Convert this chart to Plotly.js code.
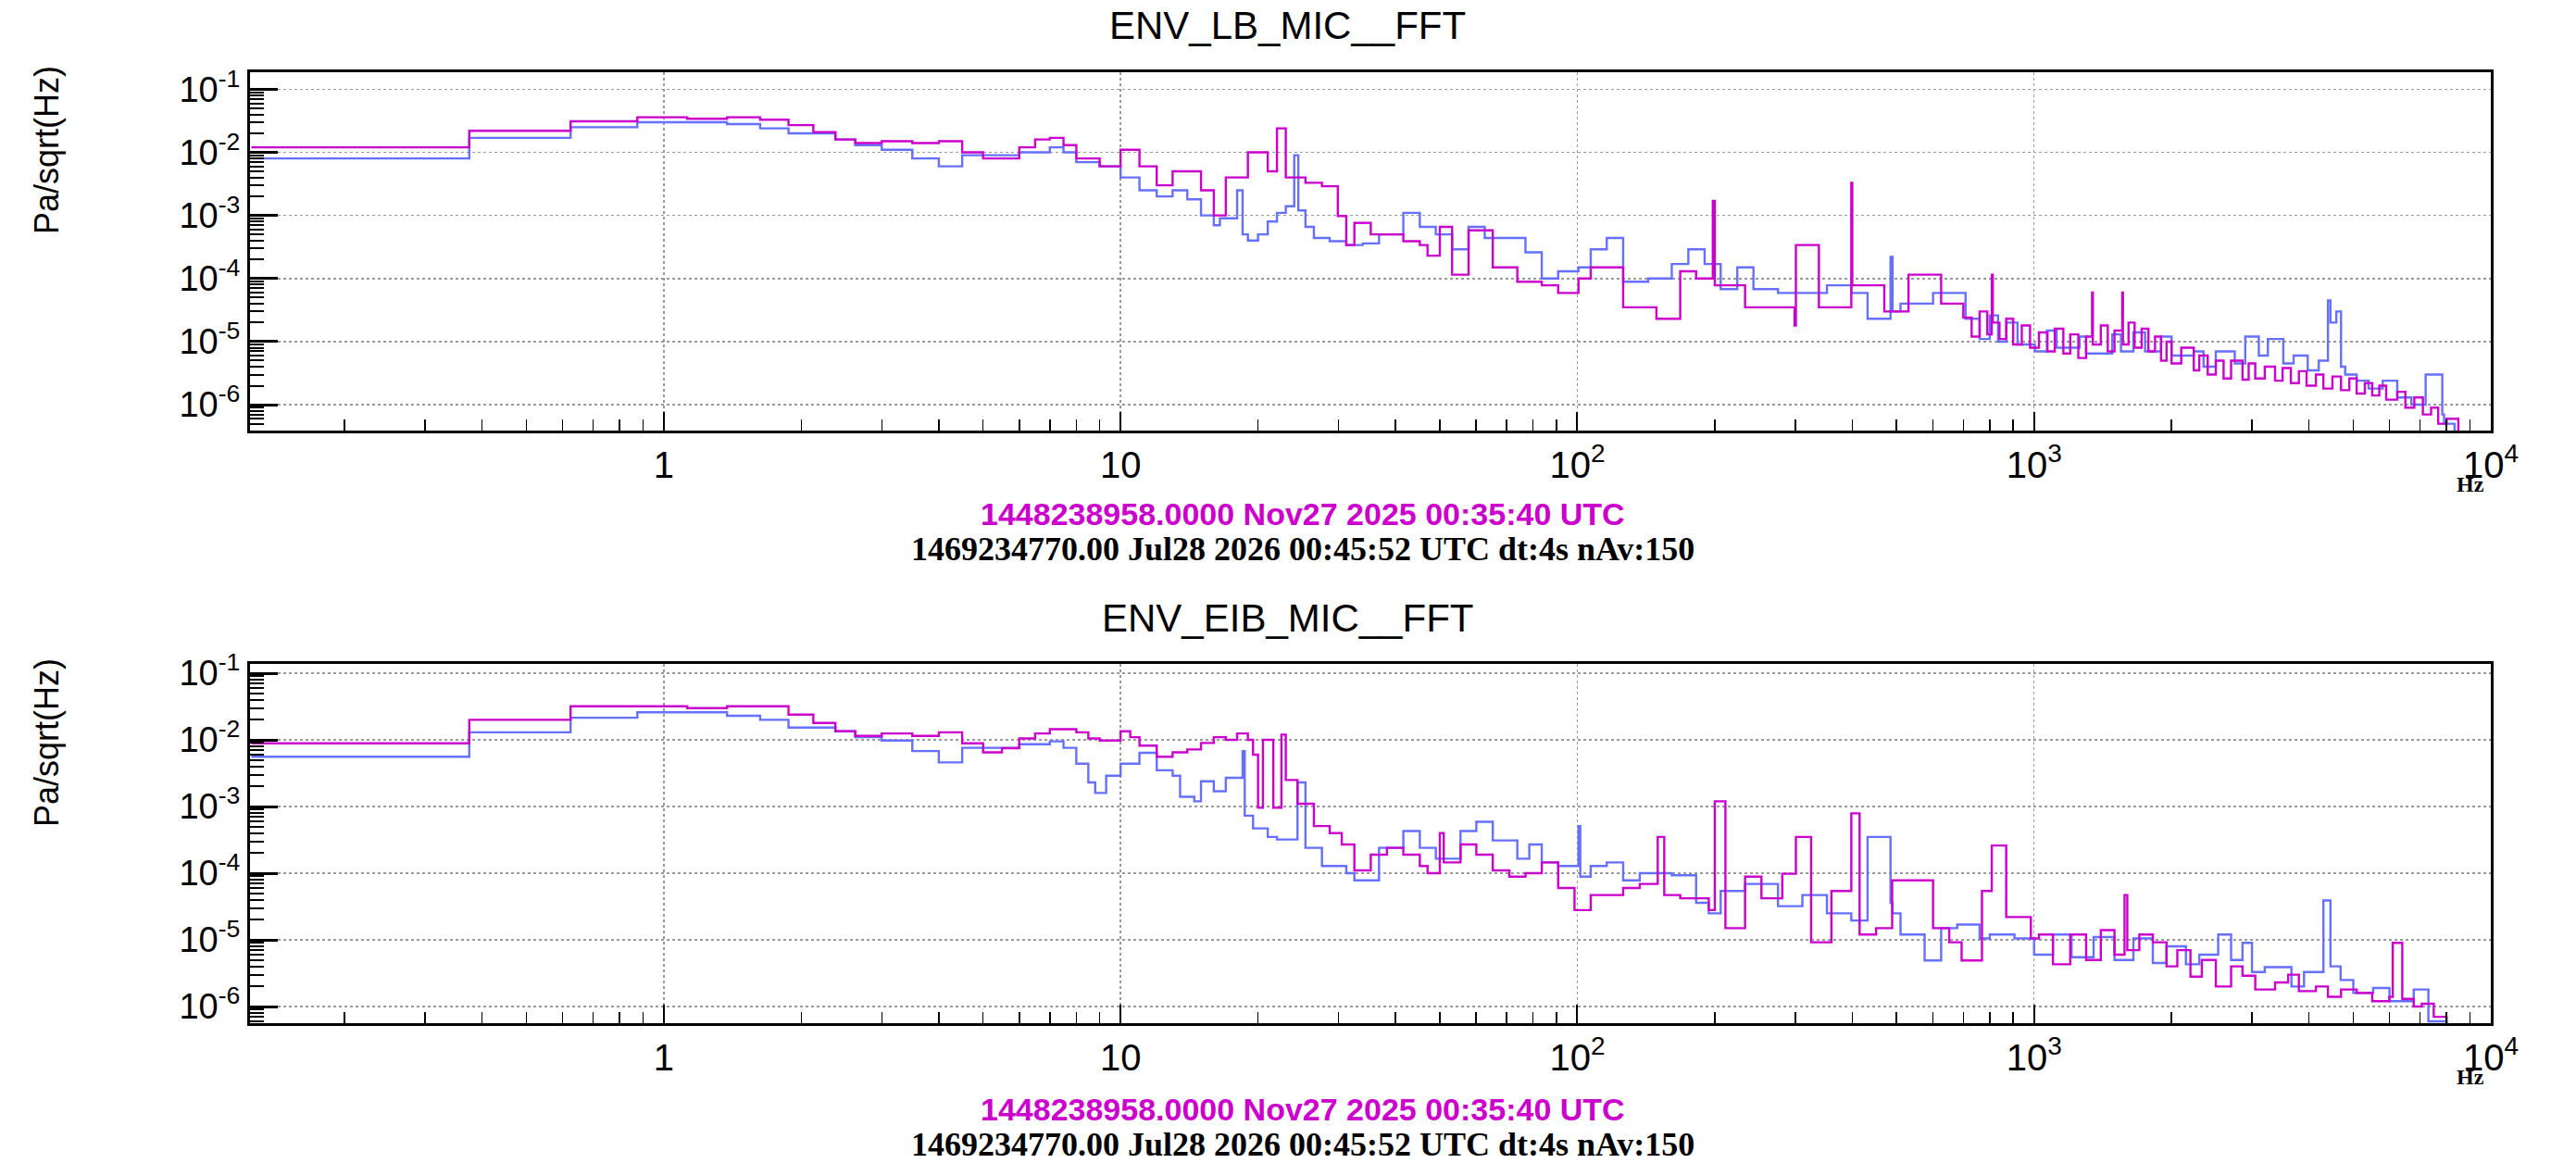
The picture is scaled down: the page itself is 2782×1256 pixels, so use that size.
<!DOCTYPE html>
<html>
<head>
<meta charset="utf-8">
<script src="https://cdn.plot.ly/plotly-3.0.1.min.js"></script>
<style>html,body{margin:0;padding:0;background:#fff}#chart{width:2782px;height:1256px}</style>
</head>
<body>
<div id="chart"></div>
<script>
const magenta = "#cc00cc",
  blue = "#6670ff";

// ENV_LB_MIC__FFT, reference trace (magenta)
const lbRefF = [0.125, 0.375, 0.625, 0.875, 1.125, 1.375, 1.625, 1.875, 2.125, 2.375, 2.625, 3, 3.5, 4, 4.5, 5, 6, 6.5, 7, 7.5, 8, 9, 10, 11, 12, 13, 15, 16, 17, 19, 21, 22, 23, 25.4, 27.6, 29.9, 31.2, 32.5, 35.3, 38.3, 41.6, 45.2, 47, 50, 53.2, 57.8, 65.3, 73.9, 83.6, 90.8, 100.6, 107, 126, 149, 168, 182, 198, 200, 233, 299, 301, 338, 398, 400, 470, 531, 626, 700, 730, 760, 790, 808, 812, 840, 869, 900, 940, 980, 1025, 1070, 1110, 1159, 1200, 1250, 1300, 1340, 1345, 1400, 1450, 1500, 1560, 1565, 1610, 1660, 1720, 1780, 1840, 1897, 1950, 2000, 2100, 2237, 2300, 2400, 2500, 2600, 2700, 2860, 2950, 3050, 3200, 3370, 3500, 3650, 3800, 3950, 4140, 4300, 4500, 4700, 4900, 5085, 5300, 5500, 5700, 5900, 6240, 6500, 6800, 7100, 7400, 7670, 8000, 8490, 9000];
const lbRefV = [0.012, 0.022, 0.031, 0.036, 0.034, 0.036, 0.033, 0.027, 0.021, 0.016, 0.014, 0.015, 0.014, 0.015, 0.010, 0.008, 0.012, 0.016, 0.017, 0.013, 0.008, 0.006, 0.011, 0.006, 0.003, 0.005, 0.0025, 0.001, 0.004, 0.01, 0.005, 0.024, 0.004, 0.0033, 0.0029, 0.00098, 0.00034, 0.00076, 0.0005, 0.0005, 0.00039, 0.00034, 0.00023, 0.00066, 0.000115, 0.00058, 0.00015, 0.000089, 0.000078, 0.000059, 0.0001, 0.00015, 0.000035, 0.000023, 0.00013, 0.0001, 0.0017, 0.000078, 0.000035, 0.000018, 0.00034, 0.000035, 0.0033, 0.000078, 0.00003, 0.000115, 0.00004, 0.000024, 0.000012, 0.00003, 0.000013, 0.000115, 0.00002, 0.000011, 0.000023, 0.000009, 0.000018, 0.000008, 0.000014, 0.000007, 0.000016, 0.0000065, 0.000013, 0.0000055, 0.000012, 0.00006, 0.000009, 0.000018, 0.000007, 0.000015, 0.00006, 0.000009, 0.00002, 0.000008, 0.000016, 0.000007, 0.000012, 0.000005, 0.00001, 0.0000045, 0.000008, 0.0000035, 0.000006, 0.000003, 0.000005, 0.0000026, 0.000005, 0.0000025, 0.0000045, 0.0000026, 0.000004, 0.0000024, 0.0000038, 0.0000022, 0.0000034, 0.000002, 0.000003, 0.0000018, 0.0000028, 0.0000017, 0.0000026, 0.0000015, 0.0000022, 0.0000014, 0.000002, 0.0000012, 0.0000016, 0.0000009, 0.0000013, 0.0000007, 0.0000009, 0.0000005, 0.0000006, 0.0000003, 0.0000002];

// ENV_LB_MIC__FFT, current trace (blue)
const lbNowF = [0.125, 0.375, 0.625, 0.875, 1.375, 1.625, 1.875, 2.375, 2.625, 3, 3.5, 4, 4.5, 5, 6, 7, 7.5, 8, 9, 10, 11, 12, 13, 14, 15, 16, 16.5, 17, 18, 18.5, 19, 20, 21, 22, 23, 24, 24.5, 25.4, 26.5, 28.7, 31.2, 33.9, 36.8, 41.6, 45.2, 49, 53.2, 57.8, 62.7, 71, 77, 83.6, 90.8, 100.6, 107, 116, 126, 143, 161, 175, 190, 206, 224, 243, 275, 311, 352, 398, 432, 485, 490, 510, 601, 708, 760, 800, 834, 870, 920, 1004, 1067, 1120, 1258, 1300, 1483, 1550, 1650, 1750, 1897, 2000, 2237, 2350, 2500, 2750, 2900, 3105, 3250, 3513, 3700, 3973, 4200, 4400, 4456, 4590, 4700, 4800, 5085, 5400, 5800, 6240, 6700, 7200, 7830, 7900, 8330, 9000];
const lbNowV = [0.008, 0.017, 0.025, 0.030, 0.028, 0.024, 0.020, 0.016, 0.013, 0.011, 0.008, 0.006, 0.009, 0.009, 0.010, 0.012, 0.010, 0.007, 0.006, 0.004, 0.0025, 0.002, 0.0025, 0.0018, 0.001, 0.0007, 0.0009, 0.0009, 0.0025, 0.0005, 0.0004, 0.0005, 0.0008, 0.0011, 0.0014, 0.009, 0.0012, 0.00066, 0.00044, 0.00039, 0.00034, 0.00036, 0.0005, 0.0011, 0.00066, 0.0005, 0.00029, 0.00066, 0.00044, 0.00044, 0.00026, 0.0001, 0.00013, 0.00015, 0.00029, 0.00044, 0.000089, 0.0001, 0.00017, 0.00029, 0.00017, 0.000068, 0.00015, 0.000068, 0.000059, 0.000059, 0.000078, 0.000059, 0.000023, 0.00022, 0.00003, 0.00004, 0.000059, 0.000023, 0.000011, 0.000026, 0.00001, 0.00002, 0.000009, 0.000007, 0.000015, 0.000008, 0.000012, 0.0000065, 0.000013, 0.000007, 0.000014, 0.000007, 0.000012, 0.000006, 0.000007, 0.000004, 0.000007, 0.0000045, 0.000012, 0.000006, 0.000011, 0.0000045, 0.000006, 0.0000035, 0.000005, 0.000045, 0.00002, 0.00003, 0.000004, 0.000003, 0.0000024, 0.0000018, 0.0000024, 0.0000013, 0.000001, 0.000003, 0.0000007, 0.0000005, 0.0000002];

// ENV_EIB_MIC__FFT, reference trace (magenta)
const eibRefF = [0.125, 0.375, 0.625, 1.125, 1.375, 1.875, 2.125, 2.375, 2.625, 3, 3.5, 4, 4.5, 5, 5.5, 6, 6.5, 7, 8, 8.5, 9, 10, 10.5, 11, 12, 13, 14, 15, 16, 17, 18, 19, 19.5, 20, 20.5, 21.6, 22.5, 23, 24.4, 26.5, 28.7, 30.5, 32.5, 35.3, 38.3, 41.6, 45.2, 47, 50, 51, 55.5, 60.1, 65.3, 71, 77, 83.6, 90.8, 98.6, 107, 126, 137, 150, 155, 168, 175, 194, 200, 211, 233, 253, 281, 301, 325, 360, 398, 415, 451, 489, 553, 601, 652, 694, 769, 808, 869, 984, 1025, 1100, 1200, 1300, 1400, 1500, 1578, 1600, 1700, 1820, 1950, 2059, 2200, 2330, 2500, 2700, 2860, 3050, 3370, 3600, 3800, 4140, 4400, 4700, 5085, 5500, 5995, 6100, 6400, 6780, 7060, 7500, 8000, 9000];
const eibRefV = [0.0089, 0.020, 0.032, 0.030, 0.032, 0.024, 0.018, 0.0135, 0.0115, 0.0125, 0.0115, 0.013, 0.0089, 0.0065, 0.0075, 0.0105, 0.0125, 0.0145, 0.013, 0.0105, 0.0098, 0.0135, 0.011, 0.0082, 0.0056, 0.0065, 0.0072, 0.009, 0.011, 0.010, 0.0125, 0.010, 0.006, 0.00096, 0.010, 0.00096, 0.012, 0.0025, 0.0011, 0.00051, 0.0004, 0.00027, 0.00011, 0.00019, 0.00024, 0.00019, 0.000128, 0.0001, 0.0004, 0.000145, 0.00027, 0.00019, 0.00011, 0.000089, 0.0001, 0.000145, 0.00006, 0.000028, 0.000047, 0.00006, 0.000069, 0.00035, 0.000047, 0.000042, 0.000042, 0.000028, 0.0012, 0.000015, 0.000089, 0.000042, 0.000098, 0.00035, 0.0000092, 0.000054, 0.00079, 0.000012, 0.000015, 0.000078, 0.000078, 0.000015, 0.0000092, 0.0000049, 0.000054, 0.00026, 0.000022, 0.0000105, 0.000012, 0.0000043, 0.000012, 0.000005, 0.000014, 0.000006, 0.000047, 0.000007, 0.000012, 0.0000092, 0.000004, 0.000007, 0.0000028, 0.000005, 0.000002, 0.000004, 0.0000029, 0.0000018, 0.0000023, 0.000003, 0.0000017, 0.000002, 0.0000014, 0.0000018, 0.0000016, 0.0000012, 0.0000014, 0.000009, 0.0000013, 0.000001, 0.0000011, 0.0000007, 0.0000005, 0.0000004, 0.0000002];

// ENV_EIB_MIC__FFT, current trace (blue)
const eibNowF = [0.125, 0.375, 0.625, 0.875, 1.375, 1.625, 1.875, 2.375, 2.625, 3, 3.5, 4, 4.5, 6, 7, 7.5, 8, 8.5, 8.8, 9.3, 10, 11, 12, 13, 13.5, 14.5, 15, 16, 17, 18.5, 18.7, 19.5, 21, 22, 24.4, 25.4, 27.6, 31.2, 32.5, 36.8, 41.6, 45.2, 49, 55.5, 60.1, 65.3, 73.9, 78.5, 83.6, 90.8, 100.6, 101.5, 107, 116, 126, 137, 161, 182, 194, 206, 233, 275, 311, 352, 398, 432, 485, 490, 510, 576, 626, 679, 760, 800, 906, 1000, 1100, 1208, 1350, 1500, 1650, 1820, 1950, 2150, 2300, 2530, 2700, 2860, 3000, 3200, 3660, 3900, 4300, 4456, 4690, 5000, 5525, 6000, 6780, 7300, 8000, 8060, 9000];
const eibNowV = [0.0056, 0.013, 0.0215, 0.026, 0.023, 0.020, 0.0153, 0.0135, 0.011, 0.0098, 0.0068, 0.0046, 0.0076, 0.0086, 0.0095, 0.0076, 0.0044, 0.0023, 0.0016, 0.0029, 0.0044, 0.0064, 0.0035, 0.0029, 0.0014, 0.0012, 0.0024, 0.0017, 0.0027, 0.0068, 0.00073, 0.00047, 0.00035, 0.00032, 0.0023, 0.00024, 0.000128, 0.0001, 0.000078, 0.00024, 0.00043, 0.00024, 0.000165, 0.00043, 0.00059, 0.00031, 0.000165, 0.00027, 0.000145, 0.000128, 0.00051, 0.000089, 0.000128, 0.000145, 0.000078, 0.0001, 0.000093, 0.000036, 0.000025, 0.000054, 0.000069, 0.000032, 0.000047, 0.000025, 0.0000195, 0.00035, 0.000036, 0.000025, 0.000012, 0.0000049, 0.000015, 0.000017, 0.0000105, 0.000012, 0.0000105, 0.000006, 0.000012, 0.0000055, 0.000011, 0.000005, 0.0000105, 0.0000045, 0.000008, 0.0000043, 0.000006, 0.000012, 0.000005, 0.000009, 0.0000033, 0.0000039, 0.000002, 0.0000033, 0.000039, 0.000004, 0.0000025, 0.0000016, 0.0000019, 0.0000012, 0.0000018, 0.0000006, 0.0000005, 0.0000002];

const xTicks = [1, 10, 100, 1000, 10000];
const xLabels = ["1", "10", "10<sup>2</sup>", "10<sup>3</sup>", "10<sup>4</sup>"];
const yTicks = [1e-6, 1e-5, 1e-4, 1e-3, 1e-2, 1e-1];
const yLabels = ["10<sup>-6</sup>", "10<sup>-5</sup>", "10<sup>-4</sup>", "10<sup>-3</sup>", "10<sup>-2</sup>", "10<sup>-1</sup>"];

const panels = [
  { title: "ENV_LB_MIC__FFT", top: 78, bottom: 465, yr: [-6.41, -0.73], ytitle: 162, stamp: 555 },
  { title: "ENV_EIB_MIC__FFT", top: 717, bottom: 1105, yr: [-6.25, -0.86], ytitle: 802, stamp: 1198 },
];
const W = 2782, H = 1256;
const py = (p) => 1 - p / H;
const px = (p) => p / W;

const trace = (f, v, color, i) => ({
  x: f, y: v, type: "scatter", mode: "lines",
  line: { color, width: 2.4, shape: "hv" },
  xaxis: i ? "x2" : "x", yaxis: i ? "y2" : "y", hoverinfo: "skip",
});

const xaxis = (anchor) => ({
  type: "log", range: [-0.906, 4.0], domain: [px(270), px(2690)], anchor,
  tickvals: xTicks, ticktext: xLabels, ticks: "inside", ticklen: 20, tickwidth: 2, tickcolor: "#000",
  minor: { ticks: "inside", ticklen: 12, tickwidth: 1.5, tickcolor: "#000", dtick: "D1", showgrid: false },
  showgrid: true, gridcolor: "#999", griddash: "dot", gridwidth: 1.5,
  showline: true, linecolor: "#000", linewidth: 3, mirror: true, zeroline: false,
  tickfont: { family: "Liberation Sans, Arial", size: 40, color: "#000" },
});
const yaxis = (p, anchor) => ({
  type: "log", range: p.yr, domain: [py(p.bottom), py(p.top)], anchor,
  tickvals: yTicks, ticktext: yLabels, ticks: "inside", ticklen: 30, tickwidth: 3, tickcolor: "#000",
  minor: { ticks: "inside", ticklen: 15, tickwidth: 2, tickcolor: "#000", dtick: "D1", showgrid: false },
  showgrid: true, gridcolor: "#999", griddash: "dot", gridwidth: 1.5,
  showline: true, linecolor: "#000", linewidth: 3, mirror: true, zeroline: false,
  tickfont: { family: "Liberation Sans, Arial", size: 38, color: "#000" },
});

const annotations = [];
const note = (text, x, y, font, extra) =>
  annotations.push({ text, x: px(x), y: py(y), xref: "paper", yref: "paper", xanchor: "center", yanchor: "middle", showarrow: false, font, ...extra });
panels.forEach((p) => {
  note(p.title, 1390, p.top - 50, { family: "Liberation Sans, Arial", size: 42, color: "#000" });
  note("Pa/sqrt(Hz)", 50, p.ytitle, { family: "Liberation Sans, Arial", size: 36, color: "#000" }, { textangle: -90 });
  note("<b>Hz</b>", 2668, p.bottom + 58, { family: "Liberation Serif, Times New Roman", size: 24, color: "#000" });
  note("<b>1448238958.0000 Nov27 2025 00:35:40 UTC</b>", 1407, p.stamp, { family: "Liberation Sans, Arial", size: 34, color: magenta });
  note("<b>1469234770.00 Jul28 2026 00:45:52 UTC dt:4s nAv:150</b>", 1407, p.stamp + 38, { family: "Liberation Serif, Times New Roman", size: 36, color: "#000" });
});

Plotly.newPlot(
  "chart",
  [
    trace(lbNowF, lbNowV, blue, 0),
    trace(lbRefF, lbRefV, magenta, 0),
    trace(eibNowF, eibNowV, blue, 1),
    trace(eibRefF, eibRefV, magenta, 1),
  ],
  {
    width: W, height: H, showlegend: false,
    margin: { t: 0, b: 0, l: 0, r: 0 },
    paper_bgcolor: "#fff", plot_bgcolor: "#fff",
    xaxis: xaxis("y"), yaxis: yaxis(panels[0], "x"),
    xaxis2: xaxis("y2"), yaxis2: yaxis(panels[1], "x2"),
    annotations,
  },
  { displayModeBar: false, staticPlot: true },
);
</script>
</body>
</html>
